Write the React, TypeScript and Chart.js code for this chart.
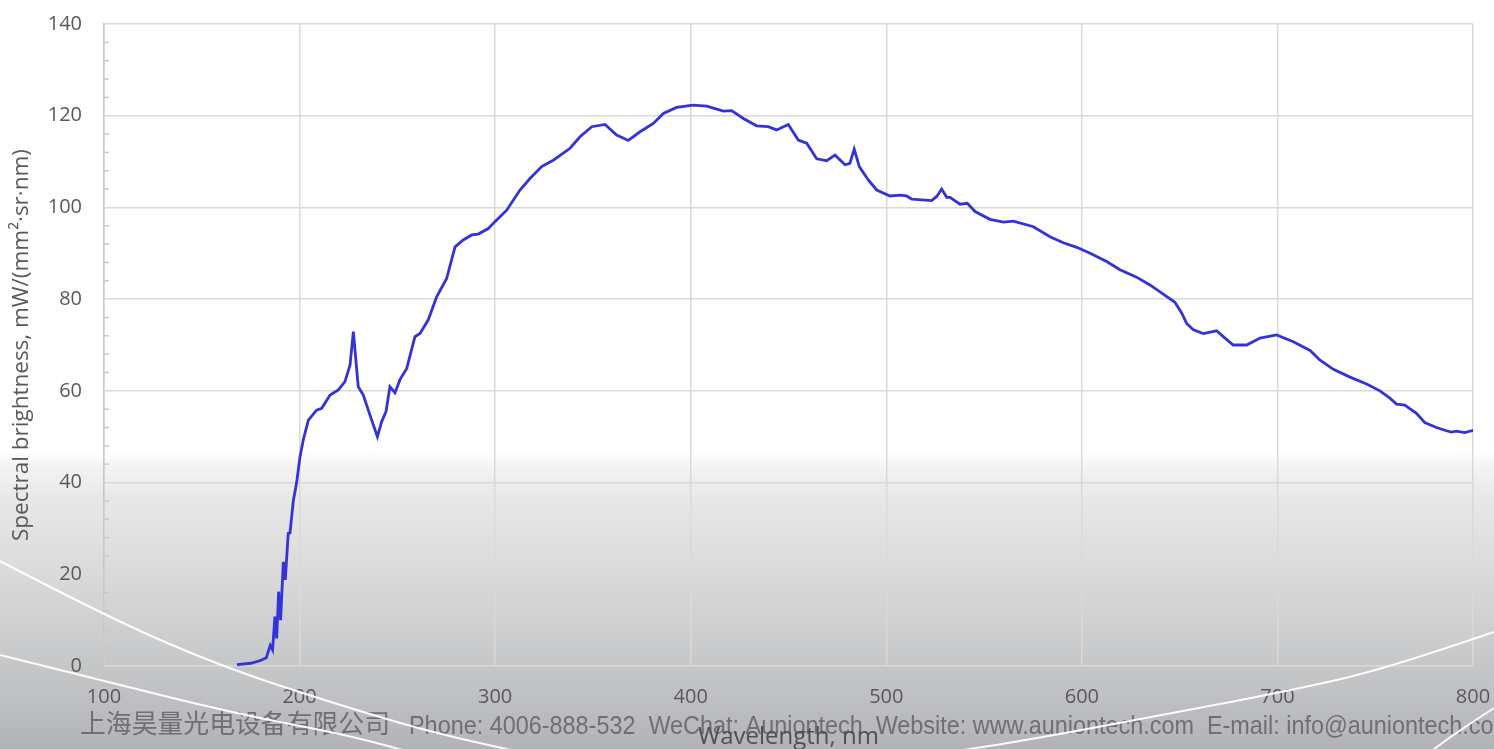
import React, { useEffect, useRef } from "react";
import { Chart, registerables } from "chart.js";

Chart.register(...registerables);

const wavelengths = [
  168, 175, 180, 183, 185, 186.2, 187.4, 188.3, 189.3, 190.3, 191.7, 192.7, 194.2, 195.1, 196.8, 198.5,
  200.2, 202, 204.5, 208.7, 211.3, 215.6, 219.8, 223.2, 225.8, 227.5, 230, 232.6, 236, 239.8, 242,
  244.2, 246.2, 248.8, 251.4, 254.8, 259, 261.6, 265.8, 270.1, 275.2, 279.5, 283.7, 288, 291.4, 296.5,
  299.9, 305.9, 312.7, 317.8, 323.8, 329.7, 338.3, 343.4, 349.4, 356.2, 362.1, 368.1, 374.1, 380.9,
  386, 392.8, 401.3, 408.2, 416.7, 420.9, 426.9, 433.7, 439.6, 443.9, 449.9, 455, 459.3, 464.4, 469.5,
  473.8, 478.9, 481.4, 483.6, 486.2, 490.8, 495.1, 501.9, 507, 510.4, 513, 523.2, 525.8, 528.3, 530.9,
  532.6, 537.7, 541.4, 545.4, 553, 559.9, 565, 575.2, 583.7, 590.5, 597.4, 604.2, 612.7, 619.5, 628,
  634.8, 641.6, 647.6, 651, 653.6, 657, 662.1, 668.9, 673.2, 677.4, 684.3, 691.1, 699.6, 708.1, 716.7,
  721.8, 728.6, 737.1, 745.6, 752.4, 757.5, 760.9, 765.1, 771.1, 775.3, 781.3, 786.4, 788.9, 791.5,
  795.8, 799.2, 800.5,
];

const brightness = [
  0.3, 0.6, 1.2, 1.8, 4.5, 3.5, 10.8, 6, 16.2, 10, 22.7, 18.8, 28.9, 29, 36, 40,
  45.6, 49.5, 53.6, 55.8, 56.2, 59.1, 60.2, 62, 65.6, 72.9, 60.9, 59.1, 54.7, 50, 53.3,
  55.5, 60.9, 59.6, 62.5, 64.9, 71.8, 72.5, 75.5, 80.5, 84.5, 91.4, 92.9, 94, 94.2, 95.4,
  96.9, 99.4, 103.8, 106.3, 108.9, 110.3, 112.9, 115.4, 117.6, 118.1, 115.8, 114.6, 116.5, 118.3,
  120.5, 121.8, 122.3, 122.1, 121, 121.1, 119.4, 117.8, 117.6, 116.9, 118.1, 114.7, 114, 110.6, 110.2,
  111.4, 109.3, 109.6, 112.7, 108.9, 106, 103.8, 102.5, 102.7, 102.5, 101.8, 101.5, 102.4, 104, 102.2,
  102.2, 100.7, 100.9, 99.1, 97.4, 96.8, 97, 95.8, 93.6, 92.3, 91.3, 90, 88.2, 86.4, 84.8,
  83.1, 81.1, 79.3, 77, 74.7, 73.3, 72.5, 73.1, 71.5, 70, 70, 71.5, 72.2, 70.7, 68.8,
  66.7, 64.7, 63, 61.5, 60, 58.4, 57.1, 56.9, 55.1, 53.1, 52, 51.3, 51, 51.2,
  50.9, 51.3, 51.4,
];

const xTickValues = [100, 200, 300, 400, 500, 600, 700, 800];
const yTickValues = [0, 20, 40, 60, 80, 100, 120, 140];
const yMinorStep = 4;

const xTitle = "Wavelength, nm";
const yTitle = "Spectral brightness, mW/(mm²·sr·nm)";
const footerCn = "上海昊量光电设备有限公司";
const footerEn =
  "Phone: 4006-888-532  WeChat: Auniontech  Website: www.auniontech.com  E-mail: info@auniontech.com";

const FONT = "'Open Sans', 'Noto Sans', sans-serif";
const W = 1494;
const H = 749;

const backgroundPlugin = {
  id: "bgDecor",
  beforeDraw(chart: any) {
    const ctx = chart.ctx as CanvasRenderingContext2D;
    const w = chart.width;
    const h = chart.height;
    ctx.save();
    ctx.fillStyle = "#ffffff";
    ctx.fillRect(0, 0, w, h);
    const y0 = h * 0.605;
    const g = ctx.createLinearGradient(0, y0, 0, h);
    g.addColorStop(0, "rgba(255,255,255,1)");
    g.addColorStop(0.03, "#f5f5f5");
    g.addColorStop(0.15, "#e8e8e8");
    g.addColorStop(0.4, "#dadada");
    g.addColorStop(0.65, "#cacbcc");
    g.addColorStop(0.85, "#bdbec1");
    g.addColorStop(1, "#b1b3b7");
    ctx.fillStyle = g;
    ctx.fillRect(0, y0, w, h - y0);

    // footer contact line (drawn under the chart texts)
    ctx.fillStyle = "rgba(108,108,110,0.95)";
    ctx.textBaseline = "alphabetic";
    ctx.textAlign = "left";
    ctx.font = "26px 'Noto Sans CJK SC', sans-serif";
    const cnW = ctx.measureText(footerCn).width;
    ctx.save();
    ctx.translate(80, 733);
    ctx.scale(310 / cnW, 1);
    ctx.fillText(footerCn, 0, 0);
    ctx.restore();
    ctx.font = "26px 'Liberation Sans Narrow', 'Liberation Sans', sans-serif";
    const enW = ctx.measureText(footerEn).width;
    ctx.save();
    ctx.translate(409, 734);
    ctx.scale(1104 / enW, 1);
    ctx.fillText(footerEn, 0, 0);
    ctx.restore();
    ctx.restore();
  },
  afterDraw(chart: any) {
    const ctx = chart.ctx as CanvasRenderingContext2D;
    // decorative white arcs (background artwork)
    const arcs: number[][][] = [
      [[0, 561], [103, 615], [220, 666], [333, 703], [430, 732], [520, 752]],
      [[0, 655], [100, 680], [233, 713], [347, 735], [410, 752]],
      [[1494, 632], [1389, 668], [1293, 690], [1173, 713], [1028, 740], [950, 752]],
      [[1494, 708], [1460, 730], [1430, 752]],
    ];
    ctx.save();
    ctx.strokeStyle = "rgba(255,255,255,0.95)";
    ctx.lineWidth = 2;
    ctx.lineJoin = "round";
    for (const pts of arcs) {
      ctx.beginPath();
      ctx.moveTo(pts[0][0], pts[0][1]);
      for (let i = 1; i < pts.length - 1; i++) {
        const mx = (pts[i][0] + pts[i + 1][0]) / 2;
        const my = (pts[i][1] + pts[i + 1][1]) / 2;
        ctx.quadraticCurveTo(pts[i][0], pts[i][1], mx, my);
      }
      const last = pts[pts.length - 1];
      ctx.lineTo(last[0], last[1]);
      ctx.stroke();
    }
    ctx.restore();
  },
};

const minorTickPlugin = {
  id: "minorTicks",
  beforeDatasetsDraw(chart: any) {
    const ctx = chart.ctx as CanvasRenderingContext2D;
    const ys = chart.scales.y;
    const left = chart.chartArea.left;
    ctx.save();
    ctx.strokeStyle = "#c8c8c8";
    ctx.lineWidth = 1.5;
    for (let v = ys.min; v <= ys.max; v += yMinorStep) {
      if (yTickValues.includes(v)) continue;
      const y = ys.getPixelForValue(v);
      ctx.beginPath();
      ctx.moveTo(left, y);
      ctx.lineTo(left + 5, y);
      ctx.stroke();
    }
    ctx.restore();
  },
};

export default function App() {
  const ref = useRef<HTMLCanvasElement | null>(null);

  useEffect(() => {
    if (!ref.current) return;
    const chart = new Chart(ref.current, {
      type: "scatter",
      data: {
        datasets: [
          {
            data: wavelengths.map((x, i) => ({ x, y: brightness[i] })),
            showLine: true,
            borderColor: "#3333d9",
            backgroundColor: "#3333d9",
            borderWidth: 2.8,
            pointRadius: 0,
            tension: 0,
            fill: false,
          },
        ],
      },
      options: {
        animation: false,
        responsive: false,
        devicePixelRatio: 1,
        layout: { padding: { top: 24, right: 21, left: 0, bottom: 0 } },
        plugins: {
          legend: { display: false },
          tooltip: { enabled: false },
        },
        scales: {
          x: {
            type: "linear",
            min: 100,
            max: 800,
            afterBuildTicks: (s: any) => {
              s.ticks = xTickValues.map((v) => ({ value: v }));
            },
            ticks: {
              color: "#595959",
              font: { family: FONT, size: 20 },
              padding: 19,
              maxRotation: 0,
            },
            grid: { color: "#d9d9d9", lineWidth: 1.5, drawTicks: false },
            border: { display: false },
            title: {
              display: true,
              text: xTitle,
              color: "#505050",
              font: { family: FONT, size: 24, lineHeight: 1 },
              padding: { top: 0, bottom: 0 },
            },
            afterFit: (s: any) => {
              s.height = 83;
              s.paddingLeft = 0;
              s.paddingRight = 0;
              s.paddingTop = 0;
              s.paddingBottom = 0;
            },
          },
          y: {
            type: "linear",
            min: 0,
            max: 140,
            afterBuildTicks: (s: any) => {
              s.ticks = yTickValues.map((v) => ({ value: v }));
            },
            ticks: {
              color: "#595959",
              font: { family: FONT, size: 20 },
              padding: 22,
            },
            grid: { color: "#d9d9d9", lineWidth: 1.5, drawTicks: false },
            border: { display: true, color: "#c8c8c8", width: 1.5 },
            title: {
              display: true,
              text: yTitle,
              color: "#595959",
              font: { family: FONT, size: 22.5 },
              padding: { top: 8, bottom: 0 },
            },
            afterFit: (s: any) => {
              s.width = 104;
              s.paddingLeft = 0;
              s.paddingRight = 0;
              s.paddingTop = 0;
              s.paddingBottom = 0;
            },
          },
        },
      },
      plugins: [backgroundPlugin, minorTickPlugin],
    } as any);
    return () => chart.destroy();
  }, []);

  return (
    <div style={{ position: "fixed", left: 0, top: 0, width: W, height: H, overflow: "hidden" }}>
      <canvas ref={ref} width={W} height={H} style={{ display: "block", width: W, height: H }} />
    </div>
  );
}
